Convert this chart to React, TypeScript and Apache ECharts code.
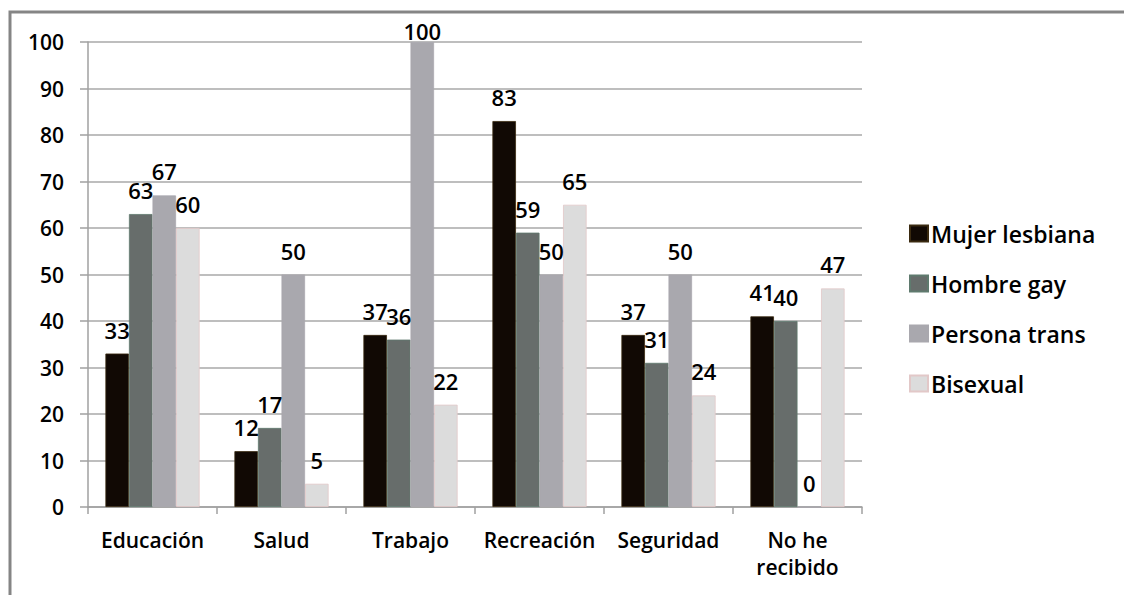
import React, { useEffect, useRef } from "react";
import * as echarts from "echarts";

const categories = ["Educación", "Salud", "Trabajo", "Recreación", "Seguridad", "No he\nrecibido"];
const seriesNames = ["Mujer lesbiana", "Hombre gay", "Persona trans", "Bisexual"];
const mujerLesbiana = [33, 12, 37, 83, 37, 41];
const hombreGay = [63, 17, 36, 59, 31, 40];
const personaTrans = [67, 50, 100, 50, 50, 0];
const bisexual = [60, 5, 22, 65, 24, 47];
const yTicks = { min: 0, max: 100, interval: 10 };

const colors = ["#110904", "#676d6b", "#a9a8ae", "#dcdcdc"];
const borders = ["#3a2a10", "#5f7a6e", "#a9a8ae", "#e2c8c8"];
const FONT = "Open Sans";

export default function App() {
  const ref = useRef<HTMLDivElement>(null);
  useEffect(() => {
    if (!ref.current) return;
    const chart = echarts.init(ref.current, null, { renderer: "svg" });
    const allData = [mujerLesbiana, hombreGay, personaTrans, bisexual];
    chart.setOption({
      animation: false,
      backgroundColor: "#ffffff",
      grid: { left: 88, right: 262, top: 42, bottom: 88, containLabel: false },
      legend: {
        orient: "vertical",
        left: 904,
        top: 217,
        itemWidth: 18,
        itemHeight: 16,
        itemGap: 27,
        icon: "rect",
        textStyle: { fontFamily: FONT, fontSize: 23, fontWeight: 600, color: "#000", padding: [0, 0, 0, -2] },
        data: seriesNames,
      },
      xAxis: {
        type: "category",
        data: categories,
        axisLine: { lineStyle: { color: "#a0a0a0", width: 1.5 } },
        axisTick: { show: true, length: 7, lineStyle: { color: "#a0a0a0", width: 1.5 } },
        axisLabel: {
          interval: 0,
          fontFamily: FONT,
          fontSize: 21,
          fontWeight: 600,
          color: "#000",
          margin: 19,
          lineHeight: 27,
        },
      },
      yAxis: {
        type: "value",
        min: yTicks.min,
        max: yTicks.max,
        interval: yTicks.interval,
        axisLine: { show: true, lineStyle: { color: "#a0a0a0", width: 1.5 } },
        axisTick: { show: true, length: 8, lineStyle: { color: "#a0a0a0", width: 1.5 } },
        splitLine: { lineStyle: { color: "#a8a8a8", width: 1.5 } },
        axisLabel: {
          fontFamily: FONT,
          fontSize: 21,
          fontWeight: 600,
          color: "#000",
          margin: 24,
        },
      },
      series: seriesNames.map((name, i) => ({
        name,
        type: "bar",
        barGap: "0%",
        barCategoryGap: "27%",
        itemStyle: { color: colors[i], borderColor: borders[i], borderWidth: 0.8 },
        label: {
          show: true,
          position: "top",
          distance: 13,
          fontFamily: FONT,
          fontSize: 22,
          fontWeight: 600,
          color: "#000",
        },
        data: allData[i].map((v) =>
          v >= yTicks.max ? { value: v, label: { distance: 0 } } : v
        ),
      })),
      graphic: [
        {
          type: "polyline",
          shape: { points: [[10, 595], [10, 12], [1124, 12]] },
          style: { stroke: "#858585", lineWidth: 3, fill: "none" },
          silent: true,
        },
      ],
    });
    return () => chart.dispose();
  }, []);
  return (
    <div
      ref={ref}
      style={{ position: "fixed", left: 0, top: 0, width: 1124, height: 595 }}
    />
  );
}
